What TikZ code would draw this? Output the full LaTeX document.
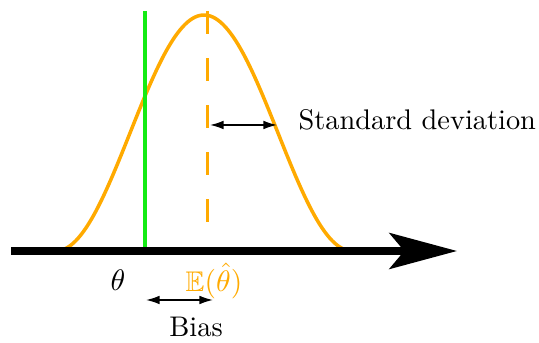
\documentclass[tikz,border=0pt]{standalone}
\usepackage{amssymb}
\usetikzlibrary{arrows.meta}
\definecolor{myorange}{RGB}{255,170,0}
\definecolor{mygreen}{RGB}{20,235,20}
\tikzset{
  dimarrow/.style={{Latex[length=5pt,width=3.2pt]}-{Latex[length=5pt,width=3.2pt]}, line width=0.55pt},
  lbl/.style={inner sep=0pt, font=\fontsize{10.5}{13}\selectfont}
}
\begin{document}
\begin{tikzpicture}[x=0.37pt,y=-0.37pt]
\useasboundingbox (0,0) rectangle (539,343);
% curve
\draw[myorange, line width=1.3pt] plot[domain=-1:1, samples=120, smooth] ({204+148*\x},{251-236*(1+cos(180*\x))/2});
% dashed mean line
\coordinate (mtop) at (207.7,11);
\coordinate (mbot) at (207.7,223);
\draw[myorange, line width=1.3pt, dash pattern=on 8.5pt off 8.9pt] (mtop) -- (mbot);
% theta line
\coordinate (gtop) at (144.7,11);
\coordinate (gbot) at (144.7,249);
\draw[mygreen, line width=1.5pt] (gtop) -- (gbot);
% axis
\coordinate (ax0) at (11,251);
\coordinate (ax1) at (457,251);
\draw[line width=2.6pt, -{Stealth[length=25pt,width=13.3pt,inset=5.5pt]}] (ax0) -- (ax1);
% std dev
\coordinate (s0) at (210,125);
\coordinate (s1) at (277,125);
\draw[dimarrow] (s0) -- (s1);
\node[lbl, anchor=west] (sd) at (298,120) {Standard deviation};
% bias
\coordinate (b0) at (146,300);
\coordinate (b1) at (213,300);
\draw[dimarrow] (b0) -- (b1);
\node[lbl] (bias) at (196,327) {Bias};
\node[lbl] (theta) at (118,280) {$\theta$};
\node[lbl, text=myorange] (E) at (214,281) {$\mathbb{E}(\hat{\theta})$};
\end{tikzpicture}
\end{document}
